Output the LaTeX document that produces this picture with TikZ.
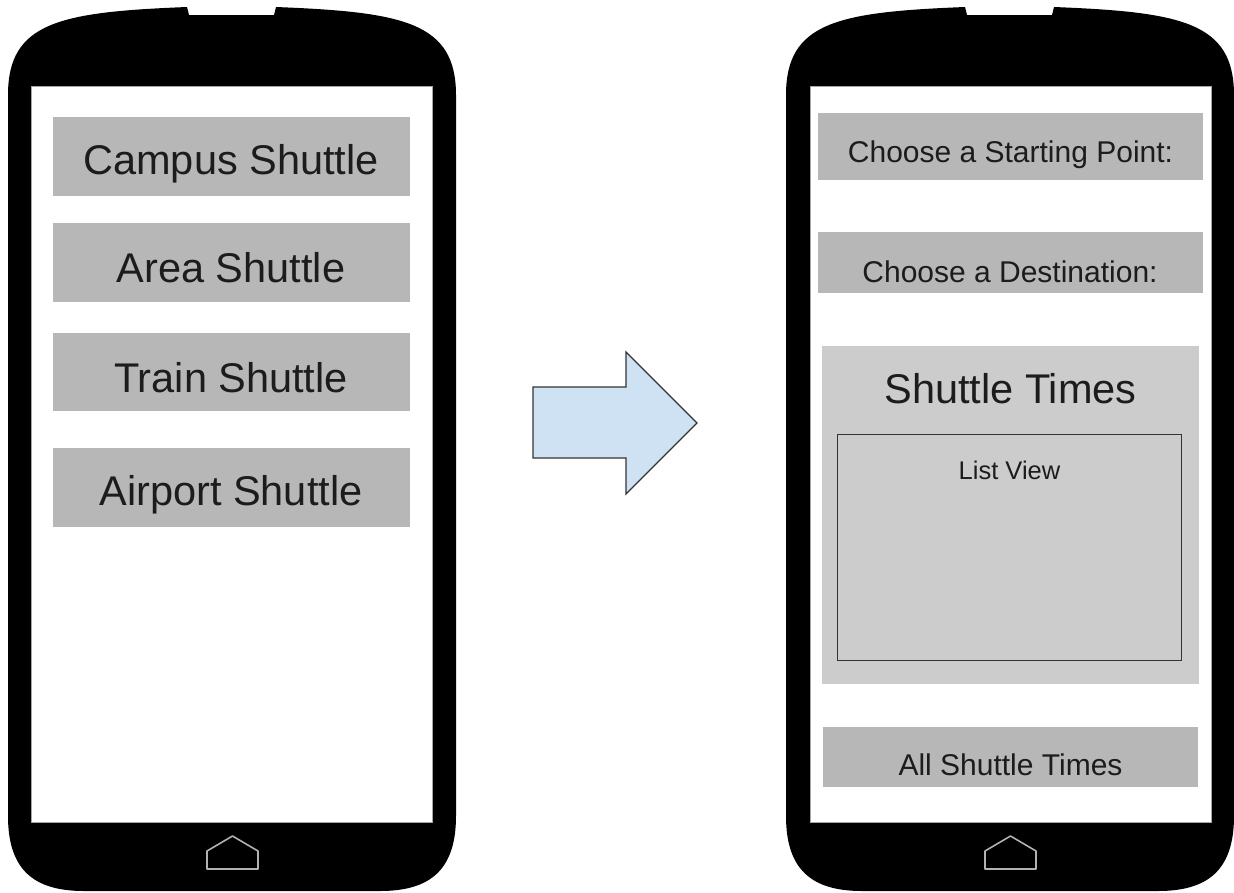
\documentclass[tikz,border=0pt]{standalone}
\usepackage{fontspec}
\setmainfont{Liberation Sans}
\definecolor{btngray}{HTML}{B7B7B7}
\definecolor{panelgray}{HTML}{CCCCCC}
\definecolor{arrowblue}{HTML}{CFE2F3}
\definecolor{txt}{HTML}{1C1C1C}
\tikzset{
  btnbox/.style={draw=none, fill=btngray, inner sep=0pt, anchor=north west},
  panelbox/.style={draw=none, fill=panelgray, inner sep=0pt, anchor=north west},
  listbox/.style={draw=black!80, line width=1.3pt, fill=panelgray, inner sep=0pt, anchor=north west},
  screenbox/.style={draw=black!35, line width=0.8pt, fill=white, inner sep=0pt, anchor=north west},
  lbl/.style={anchor=base, text=txt, inner sep=0pt},
  bigtxt/.style={lbl, font=\fontsize{41.5}{48}\selectfont},
  midtxt/.style={lbl, font=\fontsize{30}{36}\selectfont},
  smalltxt/.style={lbl, font=\fontsize{25.5}{30}\selectfont},
  phonebody/.style={fill=black},
  homebtn/.style={draw=black!30, line width=1.6pt, fill=black, line join=round},
  bigarrow/.style={fill=arrowblue, draw=black!80, line width=1.3pt, line join=miter}
}
\newcommand{\phoneshape}{%
  (8,95) .. controls (8,22) and (60,12) .. (187,7) -- (189,15) -- (274,15) -- (276,7)
  .. controls (403,12) and (456,22) .. (456,95) -- (456,816)
  .. controls (456,870) and (430,891) .. (380,891) -- (84,891)
  .. controls (34,891) and (8,870) .. (8,816) -- cycle}
\newcommand{\homeshape}{(207,869) -- (207,851) -- (232.5,836) -- (258,851) -- (258,869) -- cycle}
\begin{document}
\begin{tikzpicture}[x=1pt,y=-1pt]
\useasboundingbox (0,0) rectangle (1234,892);
\fill[white] (0,0) rectangle (1234,892);

% left phone
\fill[phonebody] \phoneshape;
\node[screenbox, minimum width=401pt, minimum height=736pt] (scrL) at (31,86) {};
\draw[homebtn] \homeshape;

% right phone
\begin{scope}[xshift=778pt]
\fill[phonebody] \phoneshape;
\draw[homebtn] \homeshape;
\end{scope}
\node[screenbox, minimum width=401pt, minimum height=736pt] (scrR) at (810,86) {};

% left buttons
\node[btnbox, minimum width=357pt, minimum height=79pt] (campus) at (53,117) {};
\node[bigtxt] (campusT) at (231,174) {Campus Shuttle};
\node[btnbox, minimum width=357pt, minimum height=79pt] (area) at (53,223) {};
\node[bigtxt] (areaT) at (231,282) {Area Shuttle};
\node[btnbox, minimum width=357pt, minimum height=78pt] (train) at (53,333) {};
\node[bigtxt] (trainT) at (231,392) {Train Shuttle};
\node[btnbox, minimum width=357pt, minimum height=79pt] (airport) at (53,448) {};
\node[bigtxt] (airportT) at (231,505) {Airport Shuttle};

% arrow
\draw[bigarrow] (533,387) -- (626,387) -- (626,352) -- (697,423) -- (626,494) -- (626,458) -- (533,458) -- cycle;

% right screen
\node[btnbox, minimum width=385pt, minimum height=67pt] (start) at (818,113) {};
\node[midtxt] (startT) at (1010.5,162) {Choose a Starting Point:};
\node[btnbox, minimum width=385pt, minimum height=61pt] (dest) at (818,232) {};
\node[midtxt] (destT) at (1010,282) {Choose a Destination:};
\node[panelbox, minimum width=377pt, minimum height=338pt] (times) at (822,346) {};
\node[bigtxt] (timesT) at (1010.5,403) {Shuttle Times};
\node[listbox, minimum width=344pt, minimum height=226pt] (list) at (837,434) {};
\node[smalltxt] (listT) at (1009.5,479) {List View};
\node[btnbox, minimum width=375pt, minimum height=60pt] (all) at (823,727) {};
\node[lbl, font=\fontsize{30}{36}\selectfont] (allT) at (1010.5,775) {All Shuttle Times};
\end{tikzpicture}
\end{document}
